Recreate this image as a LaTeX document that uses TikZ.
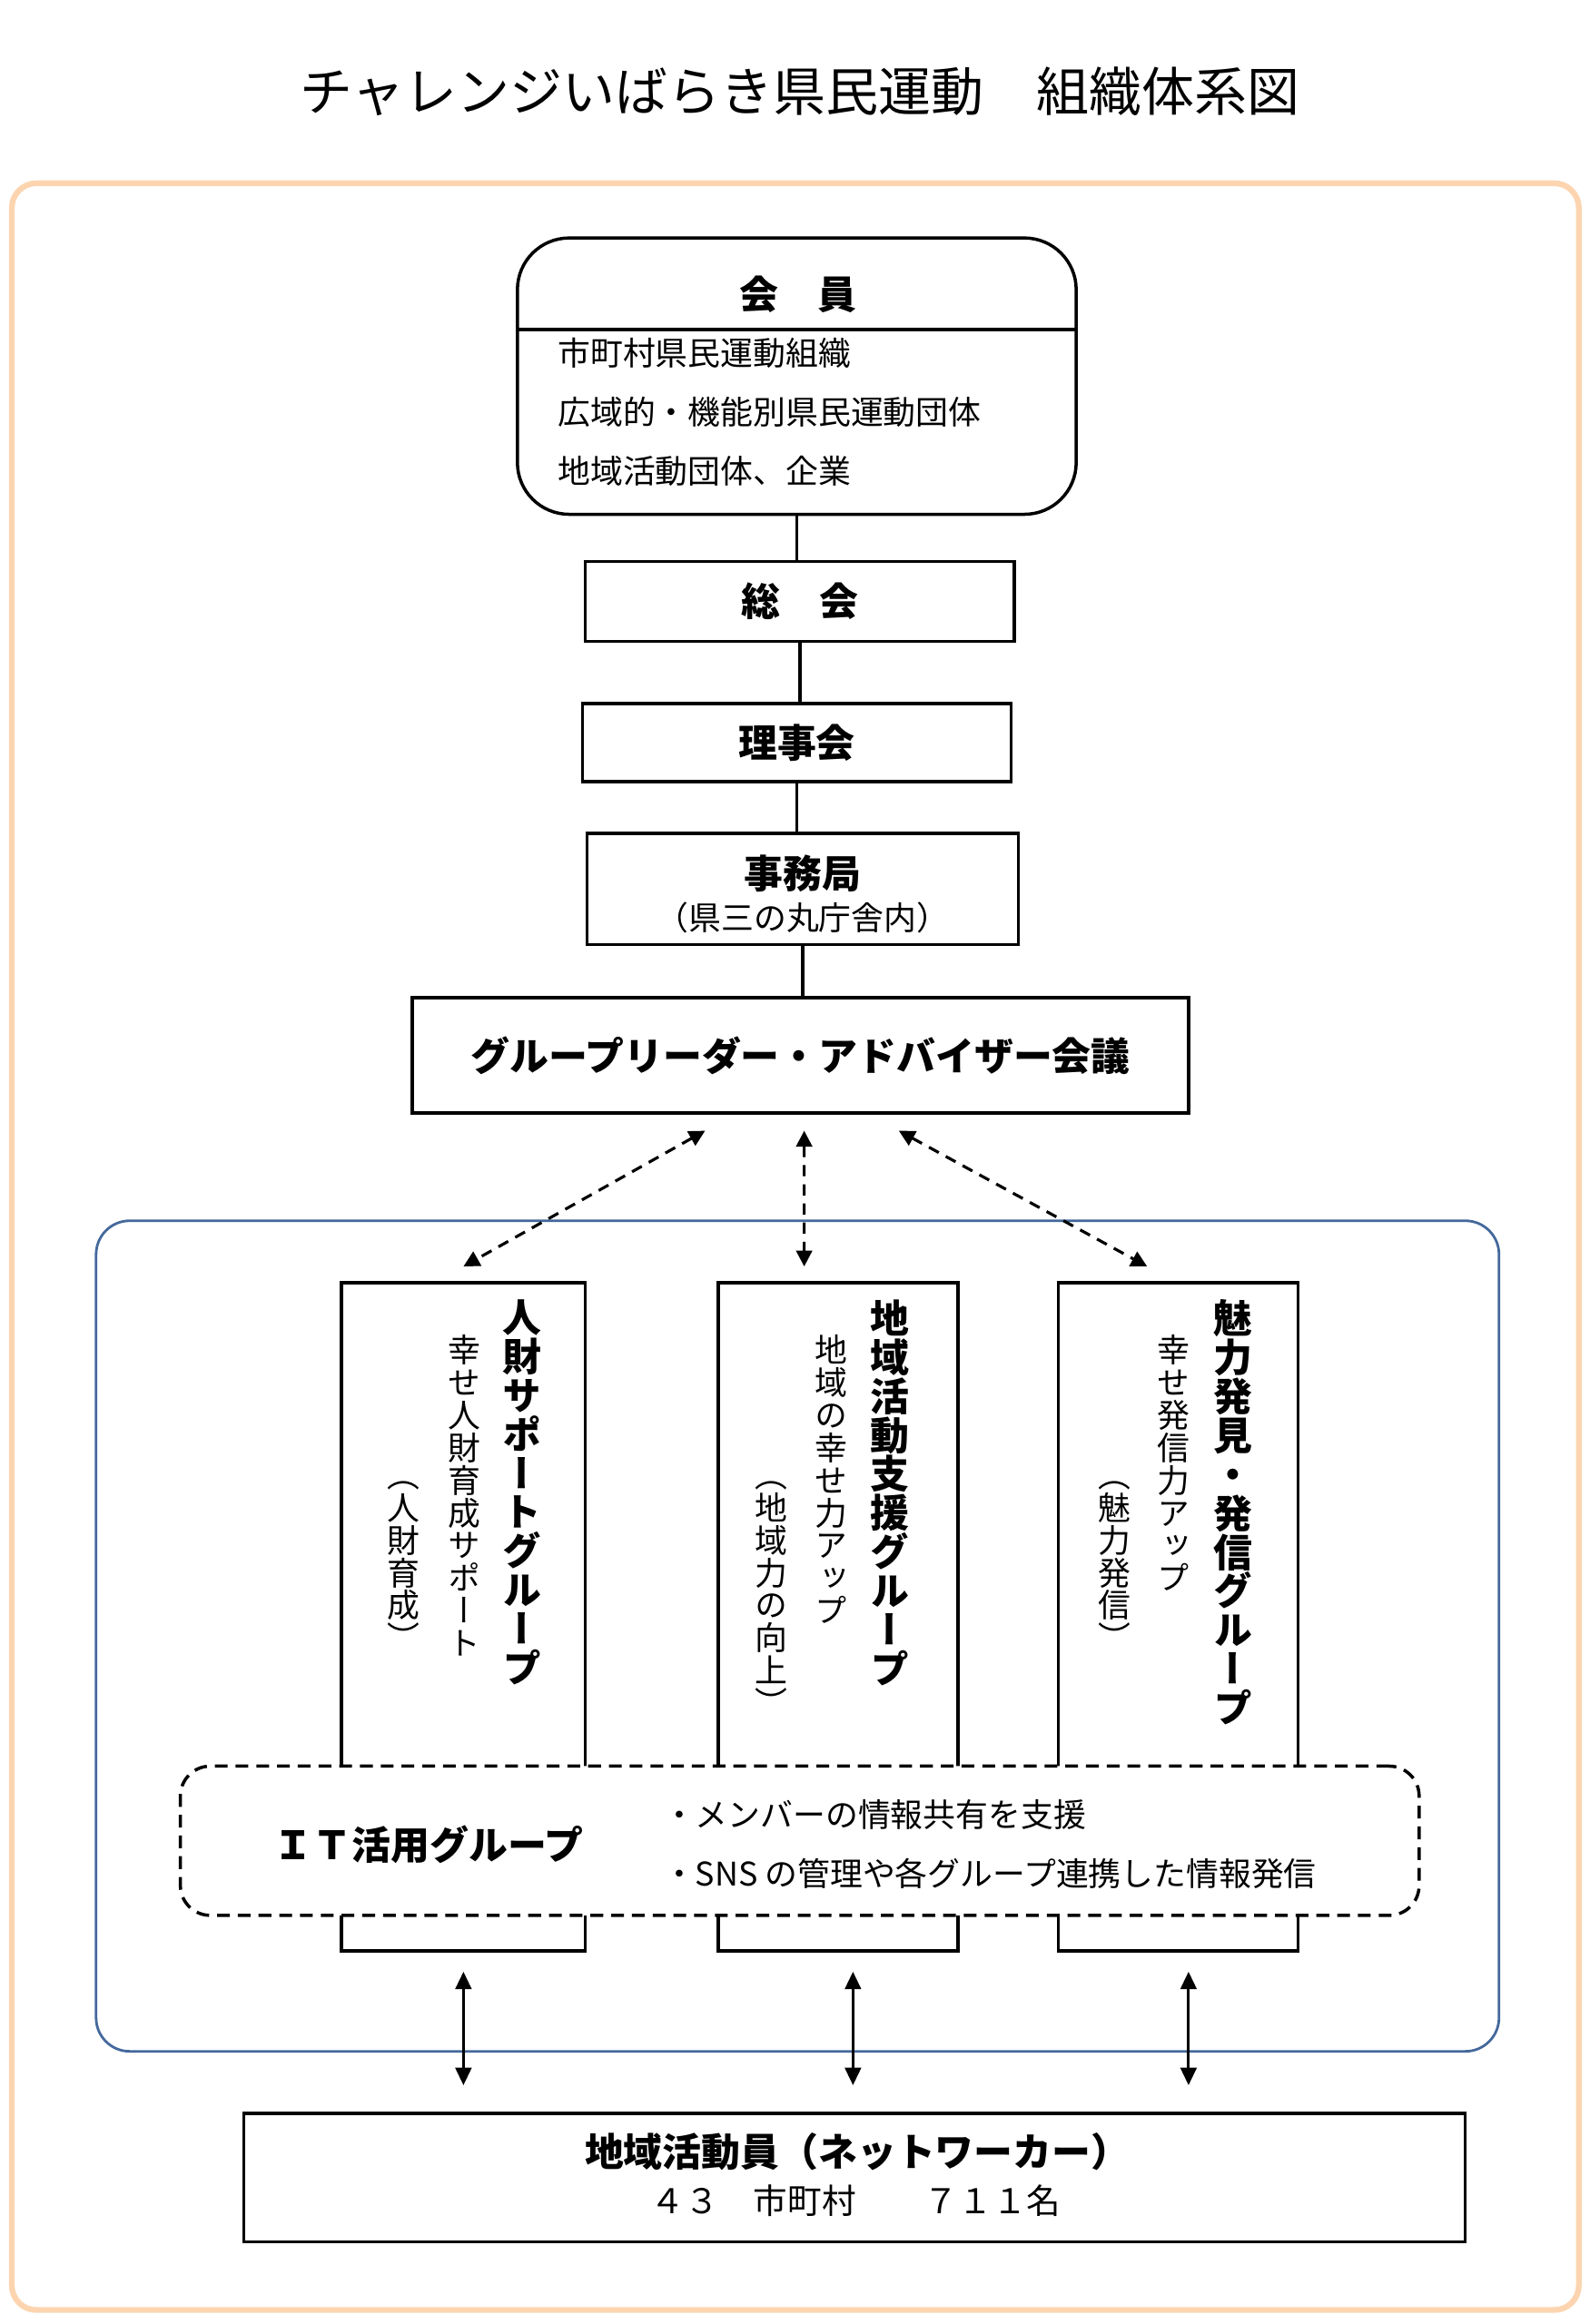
\documentclass[tikz,border=0pt]{standalone}
\usepackage{fontspec}
\setmainfont{Noto Sans CJK JP}
\newfontfamily\vjp{Noto Sans CJK JP}[Vertical=RotatedGlyphs]
\usetikzlibrary{arrows.meta,calc}
\definecolor{framepeach}{HTML}{FCD5B0}
\definecolor{groupblue}{HTML}{44699C}
\makeatletter
\newcommand\tatebox[1]{\vbox{\baselineskip=1em\lineskip=0pt\lineskiplimit=-100pt\@tfor\tatechar:=#1\do{\hbox to 1em{\hss\tatechar\hss}}}}
\makeatother
\tikzset{
	box/.style={draw, line width=1pt, inner sep=0pt},
	head/.style={font=\bfseries\fontsize{12.2}{14}\selectfont, inner sep=0pt},
	body/.style={font=\fontsize{10.2}{12}\selectfont, inner sep=0pt},
	vhead/.style={font=\vjp\bfseries\fontsize{12.2}{12.2}\selectfont, anchor=north, inner sep=0pt},
	vbody/.style={font=\vjp\fontsize{10.2}{10.2}\selectfont, anchor=north, inner sep=0pt},
	link/.style={line width=1pt},
	dasharrow/.style={line width=0.9pt, dash pattern=on 3.5pt off 2.5pt, {Triangle[length=5pt,width=5pt]}-{Triangle[length=5pt,width=5pt]}},
	solidarrow/.style={line width=0.9pt, {Triangle[length=5.5pt,width=5pt]}-{Triangle[length=5.5pt,width=5pt]}}
}
\begin{document}
\begin{tikzpicture}[x=0.01628cm, y=-0.01628cm]
	\useasboundingbox (0,0) rectangle (1075,1572.5);

	%frames
	\draw [framepeach, line width=1.8pt, rounded corners=0.27cm] (8,124) rectangle (1068,1563);
	\draw [groupblue, line width=0.8pt, rounded corners=0.37cm] (65,826) rectangle (1014,1388);

	%title
	\node (title) at (541,62) {\fontsize{16.5}{18}\selectfont チャレンジいばらき県民運動　組織体系図};

	%nodes
	\node [box, rounded corners=0.57cm, minimum width=6.154cm, minimum height=3.044cm] (member) at (539,254.5) {};
	\coordinate (divy) at (0,223);
	\draw [link] (member.west |- divy) -- (member.east |- divy);
	\node [head] (membert) at (540,199) {会　員};
	\node [body, anchor=west] (member1) at (377,239) {市町村県民運動組織};
	\node [body, anchor=west] (member2) at (377,279) {広域的・機能別県民運動団体};
	\node [body, anchor=west] (member3) at (377,319) {地域活動団体、企業};

	\node [box, head, minimum width=4.721cm, minimum height=0.879cm] (soukai) at (541,407) {総　会};
	\node [box, head, minimum width=4.721cm, minimum height=0.863cm] (riji) at (539,502.5) {理事会};
	\node [box, minimum width=4.754cm, minimum height=1.221cm] (jimu) at (543,601.5) {};
	\node [head] (jimut) at (543,591) {事務局};
	\node [body] (jimus) at (543,621) {（県三の丸庁舎内）};
	\node [box, head, minimum width=8.547cm, minimum height=1.270cm] (gl) at (541.5,714) {グループリーダー・アドバイザー会議};

	\node [box, minimum width=2.686cm, minimum height=7.359cm] (grp1) at (313.5,1094) {};
	\node [box, minimum width=2.637cm, minimum height=7.359cm] (grp2) at (567,1094) {};
	\node [box, minimum width=2.637cm, minimum height=7.359cm] (grp3) at (797,1094) {};

	\node [vhead] (grp1h) at (353,879) {\tatebox{人財サポートグループ}};
	\node [vbody] (grp1b) at (314,903) {\tatebox{幸せ人財育成サポート}};
	\node [vbody] (grp1p) at (273,1002) {\tatebox{（人財育成）}};
	\node [vhead] (grp2h) at (602,879) {\tatebox{地域活動支援グループ}};
	\node [vbody] (grp2b) at (562,903) {\tatebox{地域の幸せ力アップ}};
	\node [vbody] (grp2p) at (522,1002) {\tatebox{（地域力の向上）}};
	\node [vhead] (grp3h) at (834,879) {\tatebox{魅力発見・発信グループ}};
	\node [vbody] (grp3b) at (794,903) {\tatebox{幸せ発信力アップ}};
	\node [vbody] (grp3p) at (754,1002) {\tatebox{（魅力発信）}};

	\node [box, dash pattern=on 4pt off 2.5pt, rounded corners=0.33cm, fill=white, minimum width=13.643cm, minimum height=1.644cm] (it) at (541,1245.5) {};
	\node [head] (itt) at (290,1248) {ＩＴ活用グループ};
	\node [body, anchor=west] (it1) at (448,1228) {・メンバーの情報共有を支援};
	\node [body, anchor=west] (it2) at (448,1268) {・SNS の管理や各グループ連携した情報発信};

	\node [box, minimum width=13.447cm, minimum height=1.416cm] (net) at (578,1473.5) {};
	\node [head] (nett) at (580,1456) {地域活動員（ネットワーカー）};
	\node [body, font=\fontsize{10.7}{12}\selectfont] (netn) at (579,1489) {４３　市町村　　７１１名};

	%paths
	\draw [link] (member.south) -- (member.south |- soukai.north);
	\draw [link] (soukai.south) -- (soukai.south |- riji.north);
	\draw [link] (riji.south) -- (riji.south |- jimu.north);
	\draw [link] (jimu.south) -- (jimu.south |- gl.north);

	\draw [dasharrow] ($(gl.south)+(-64.5,11)$) -- ($(grp1.north)+(0,-10)$);
	\draw [dasharrow] ($(gl.south)+(2.5,11)$) -- ($(grp2.north)+(-23,-10)$);
	\draw [dasharrow] ($(gl.south)+(66.5,11)$) -- ($(grp3.north)+(-21,-10)$);

	\foreach \g/\dx in {grp1/0, grp2/10, grp3/7}
		\draw [solidarrow] ($(\g.south)+(\dx,13)$) -- ($(\g.south |- net.north)+(\dx,-18)$);

\end{tikzpicture}
\end{document}
